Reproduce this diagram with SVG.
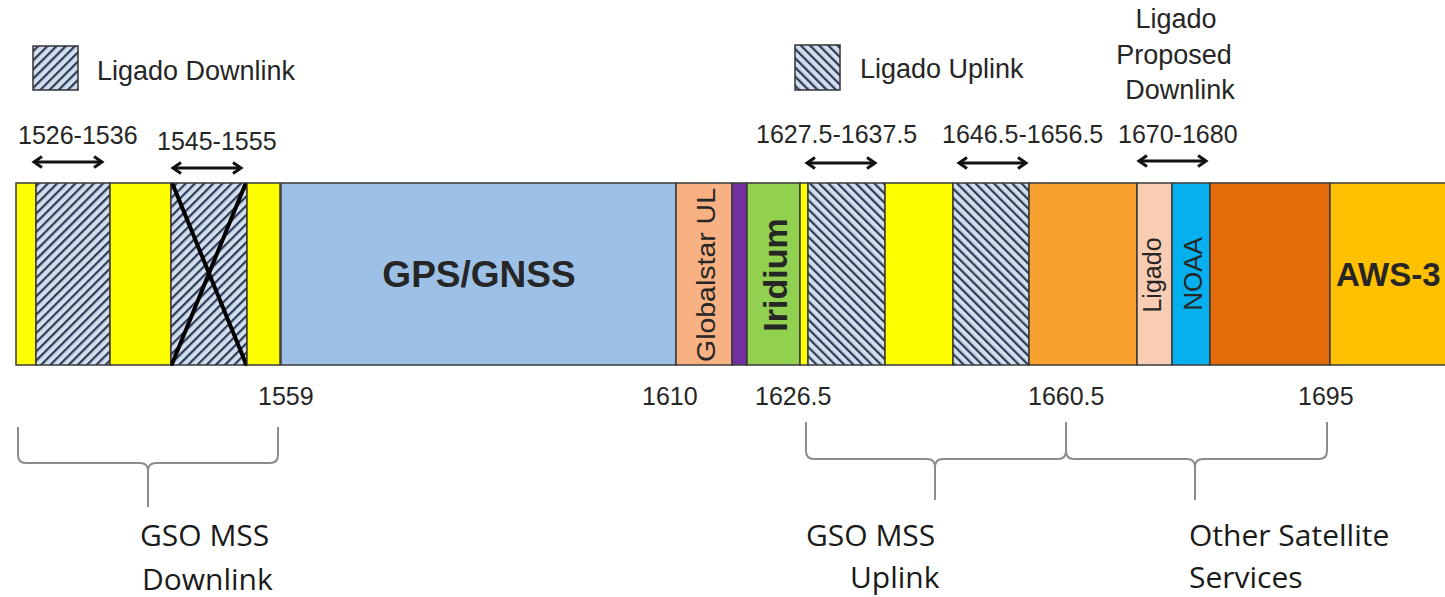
<svg xmlns="http://www.w3.org/2000/svg" width="1445" height="597" viewBox="0 0 1445 597">
<style>
.t{font-family:"Liberation Sans",Arial,sans-serif;fill:#262626}
.num{font-size:25px}
.leg{font-size:27px}
.cal{font-family:"Open Sans","Noto Sans",sans-serif;font-size:30px;fill:#1a1a1a}
.band{stroke:#3a3a3a;stroke-width:1.5}
.arr{stroke:#111;stroke-width:3;fill:none;marker-start:url(#ah);marker-end:url(#ah)}
.brace{stroke:#8c8c8c;stroke-width:2;fill:none;stroke-linejoin:round}
.x{stroke:#000;stroke-width:4;stroke-linecap:round}
</style>
<defs>
<pattern id="hd" patternUnits="userSpaceOnUse" width="6.5" height="6.5" patternTransform="rotate(45)">
<rect width="6.5" height="6.5" fill="#d2deec"/>
<rect width="2.2" height="6.5" fill="#2b3b58"/>
</pattern>
<pattern id="hu" patternUnits="userSpaceOnUse" width="6.5" height="6.5" patternTransform="rotate(-45)">
<rect width="6.5" height="6.5" fill="#d2deec"/>
<rect width="2.2" height="6.5" fill="#2b3b58"/>
</pattern>
<marker id="ah" markerWidth="14" markerHeight="14" refX="11" refY="7" orient="auto-start-reverse" markerUnits="userSpaceOnUse">
<path d="M3,1.5 L11,7 L3,12.5" fill="none" stroke="#111" stroke-width="3" stroke-linejoin="miter"/>
</marker>
</defs>
<rect width="1445" height="597" fill="#ffffff"/>

<g id="legend-downlink">
<rect x="33" y="46" width="45" height="44" fill="url(#hd)" stroke="#333" stroke-width="1.5"/>
<text class="t leg" x="97" y="80">Ligado Downlink</text>
</g>
<g id="legend-uplink">
<rect x="795" y="45" width="45" height="45" fill="url(#hu)" stroke="#333" stroke-width="1.5"/>
<text class="t leg" x="860" y="78">Ligado Uplink</text>
</g>
<g id="label-proposed">
<text class="t leg" text-anchor="middle" x="1176" y="28">Ligado</text>
<text class="t leg" text-anchor="middle" x="1174" y="64">Proposed</text>
<text class="t leg" text-anchor="middle" x="1180" y="99">Downlink</text>
</g>

<g id="top-labels">
<text class="t num" x="18" y="144">1526-1536</text>
<text class="t num" x="157" y="150">1545-1555</text>
<text class="t num" x="756" y="143">1627.5-1637.5</text>
<text class="t num" x="942" y="143">1646.5-1656.5</text>
<text class="t num" x="1118" y="143">1670-1680</text>
</g>

<g id="band-yellow-1"><rect class="band" x="16" y="183" width="20" height="182" fill="#ffff00"/></g>
<g id="band-ligado-dl-1"><rect class="band" x="36" y="183" width="74" height="182" fill="url(#hd)"/></g>
<g id="band-yellow-2"><rect class="band" x="110" y="183" width="61" height="182" fill="#ffff00"/></g>
<g id="band-ligado-dl-2"><rect class="band" x="171" y="183" width="76" height="182" fill="url(#hd)"/>
<line class="x" x1="173" y1="185" x2="246" y2="364"/><line class="x" x1="245" y1="185" x2="172" y2="364"/></g>
<g id="band-yellow-3"><rect class="band" x="247" y="183" width="33" height="182" fill="#ffff00"/></g>
<g id="band-gps"><rect class="band" x="281" y="183" width="395" height="182" fill="#9dc1e6"/>
<text class="t" x="479" y="287" text-anchor="middle" font-size="37" font-weight="bold" fill="#161616">GPS/GNSS</text></g>
<g id="band-globalstar"><rect class="band" x="676" y="183" width="56" height="182" fill="#f7b183"/>
<text class="t" transform="translate(715,275) rotate(-90)" text-anchor="middle" font-size="25" fill="#4a2408" textLength="174" lengthAdjust="spacingAndGlyphs">Globalstar UL</text></g>
<g id="band-purple"><rect class="band" x="732" y="183" width="15" height="182" fill="#7030a0"/></g>
<g id="band-iridium"><rect class="band" x="747" y="183" width="53" height="182" fill="#92d050"/>
<text class="t" transform="translate(787,275) rotate(-90)" text-anchor="middle" font-size="34" font-weight="bold" fill="#1d3f14">Iridium</text></g>
<g id="band-yellow-4"><rect class="band" x="800" y="183" width="8" height="182" fill="#ffff00"/></g>
<g id="band-ligado-ul-1"><rect class="band" x="808" y="183" width="77" height="182" fill="url(#hu)"/></g>
<g id="band-yellow-5"><rect class="band" x="885" y="183" width="68" height="182" fill="#ffff00"/></g>
<g id="band-ligado-ul-2"><rect class="band" x="953" y="183" width="76" height="182" fill="url(#hu)"/></g>
<g id="band-orange"><rect class="band" x="1029" y="183" width="108" height="182" fill="#f9a12e"/></g>
<g id="band-ligado-proposed"><rect class="band" x="1137" y="183" width="35" height="182" fill="#f9cdb3"/>
<text class="t" transform="translate(1161,275) rotate(-90)" text-anchor="middle" font-size="25" fill="#5f5048">Ligado</text></g>
<g id="band-noaa"><rect class="band" x="1172" y="183" width="38" height="182" fill="#06b0ef"/>
<text class="t" transform="translate(1202,274) rotate(-90)" text-anchor="middle" font-size="26" fill="#1c3560">NOAA</text></g>
<g id="band-dark-orange"><rect class="band" x="1210" y="183" width="120" height="182" fill="#e46c0a"/></g>
<g id="band-aws3"><rect class="band" x="1330" y="183" width="120" height="182" fill="#ffc000"/>
<text class="t" x="1336" y="286" font-size="33" font-weight="bold" fill="#161616">AWS-3</text></g>

<g id="bottom-labels">
<text class="t num" x="258" y="405">1559</text>
<text class="t num" x="642" y="405">1610</text>
<text class="t num" x="755" y="405">1626.5</text>
<text class="t num" x="1028" y="405">1660.5</text>
<text class="t num" x="1298" y="405">1695</text>
</g>

<g id="connectors">
<line class="arr" x1="34" y1="162" x2="102" y2="162"/>
<line class="arr" x1="173" y1="168" x2="241" y2="168"/>
<line class="arr" x1="807" y1="163" x2="875" y2="163"/>
<line class="arr" x1="959" y1="163" x2="1026" y2="163"/>
<line class="arr" x1="1139" y1="161" x2="1206" y2="161"/>
<path class="brace" d="M18,427 V455 Q18,463 26,463 H140 Q148,463 148,471 V507 M148,471 Q148,463 156,463 H270 Q278,463 278,455 V427"/>
<path class="brace" d="M806,422 V451 Q806,459 814,459 H927 Q935,459 935,467 V500 M935,467 Q935,459 943,459 H1058 Q1066,459 1066,451 V422"/>
<path class="brace" d="M1066,451 Q1066,459 1074,459 H1187 Q1195,459 1195,467 V500 M1195,467 Q1195,459 1203,459 H1319 Q1327,459 1327,451 V422"/>
</g>

<g id="group-labels">
<text class="cal" x="140" y="546">GSO MSS</text>
<text class="cal" x="142" y="590">Downlink</text>
<text class="cal" x="806" y="546">GSO MSS</text>
<text class="cal" x="850" y="588">Uplink</text>
<text class="cal" x="1189" y="546">Other Satellite</text>
<text class="cal" x="1189" y="588">Services</text>
</g>
</svg>
